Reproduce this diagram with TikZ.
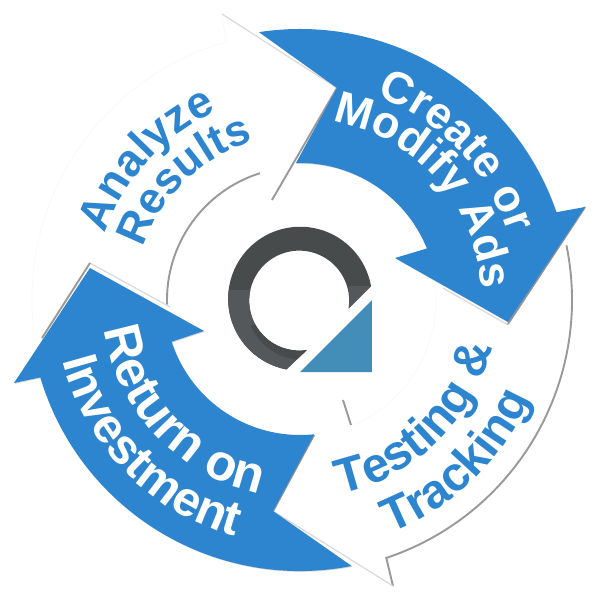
\documentclass[tikz,border=0pt]{standalone}
\usepackage{fontspec}
\setmainfont{Liberation Sans}
\usepackage{tikz}
\usetikzlibrary{decorations.text,shadows}
\definecolor{arrowblue}{RGB}{46,133,207}
\definecolor{logoblue}{RGB}{67,142,184}
\definecolor{logodark}{RGB}{71,75,76}
\definecolor{logolight}{RGB}{84,88,90}
\newcommand{\logoring}{(71,14) arc[start angle=10.2,end angle=259,radius=72] -- (7,-50) arc[start angle=279,end angle=-9,radius=50] -- cycle}
\newcommand{\cwlabel}[5]{\path[decorate,decoration={text along path,text align=center,text color=#3,text={|\fontsize{#4}{#4}\selectfont\bfseries|#5}}] (#2+80:#1) arc[start angle=#2+80,end angle=#2-80,radius=#1];}
\newcommand{\ccwlabel}[5]{\path[decorate,decoration={text along path,text align=center,text color=#3,text={|\fontsize{#4}{#4}\selectfont\bfseries|#5}}] (#2-80:#1) arc[start angle=#2-80,end angle=#2+80,radius=#1];}
\begin{document}
\begin{tikzpicture}[x=1pt,y=1pt,
	bluearrow/.style={fill=arrowblue,drop shadow={shadow xshift=0.8pt,shadow yshift=-0.8pt,opacity=0.3}},
	darkedge/.style={draw=black!40,line width=1.9pt},
	lightedge/.style={draw=black!15,line width=1.2pt},
	faintedge/.style={draw=black!3,line width=0.5pt}]
		\useasboundingbox (-300,-300) rectangle (300,300);
		\fill[white] (-300,-300) rectangle (300,300);
		% white arrows
		\draw[faintedge] (-78,286) -- (-74,258) arc[start angle=106,end angle=187,radius=268];
		\draw[faintedge] (4:136) arc[start angle=4,end angle=-67,radius=136];
		\draw[lightedge] (-78,286) -- (37,212);
		\draw[darkedge] (37,212) -- (-28,100);
		\draw[darkedge] (107.5:133) arc[start angle=107.5,end angle=182,radius=133];
		\draw[lightedge] (-210,37) -- (-130,-7);
		\draw[darkedge] (-210,37) -- (-258,-38);
		\draw[darkedge] (11.6:272) arc[start angle=11.6,end angle=-71.5,radius=272] -- (93,-286);
		\draw[lightedge] (-27,-211) -- (93,-286);
		\draw[lightedge] (208,-25) -- (143,12);
		\draw[darkedge] (285,93) -- (208,-24);
		\draw[darkedge] (14,-135) -- (-27,-211);
		\draw[darkedge] (43,-100) -- (51,-125);
		% blue arrows
		\fill[bluearrow] (98.7:271) arc[start angle=98.7,end angle=18.9,radius=271] -- (285,93) -- (208,-22) -- (95,42) -- (22.1:137) arc[start angle=22.1,end angle=91.7,radius=137] -- (37,212) -- cycle;
		\fill[bluearrow] (-79:271) arc[start angle=-79,end angle=-163.4,radius=271] -- (-286,-83) -- (-210,32) -- (-96,-31) -- (-162:135) arc[start angle=-162,end angle=-84,radius=135] -- (-27,-211) -- cycle;
		% logo
		\fill[logodark] \logoring;
		\begin{scope}
		\clip \logoring;
		\fill[logolight] (-75,10) rectangle (-5,-75);
		\fill[logolight] (49,14) rectangle (73,-10);
		\clip (-75,-25) rectangle (30,-75);
		\fill[logodark] (3,-3) circle (57);
		\end{scope}
		\fill[logoblue] (72,0) -- (72,-72) -- (0,-72) -- cycle;
		% labels
		\cwlabel{218}{43.5}{white}{45}{Create or}
		\cwlabel{182}{41.5}{white}{45}{Modify Ads}
		\cwlabel{206}{137.5}{arrowblue}{45}{Analyze}
		\cwlabel{165}{134}{arrowblue}{44}{Results}
		\ccwlabel{198}{-46}{arrowblue}{49}{Testing {\&}}
		\ccwlabel{250}{-46}{arrowblue}{48}{Tracking}
		\ccwlabel{198}{223.5}{white}{51}{Return on}
		\ccwlabel{245}{224.5}{white}{49}{Investment}
\end{tikzpicture}
\end{document}
